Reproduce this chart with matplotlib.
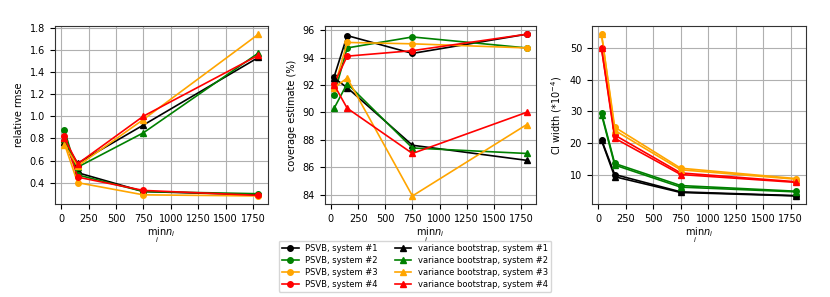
import matplotlib
matplotlib.use("Agg")
import matplotlib.pyplot as plt

x = [30, 150, 750, 1800]
colors = ["black", "green", "orange", "red"]
systems = ["system #1", "system #2", "system #3", "system #4"]

# relative rmse
rmse_psvb = [
    [0.78, 0.49, 0.32, 0.29],
    [0.875, 0.47, 0.32, 0.30],
    [0.75, 0.40, 0.29, 0.28],
    [0.82, 0.45, 0.33, 0.285],
]
rmse_vb = [
    [0.77, 0.575, 0.92, 1.53],
    [0.79, 0.54, 0.85, 1.57],
    [0.74, 0.55, 0.97, 1.74],
    [0.80, 0.57, 1.00, 1.55],
]
# coverage estimate (%)
cov_psvb = [
    [92.6, 95.6, 94.3, 95.7],
    [91.3, 94.7, 95.5, 94.7],
    [91.8, 95.1, 95.0, 94.7],
    [92.1, 94.1, 94.5, 95.7],
]
cov_vb = [
    [92.5, 91.8, 87.6, 86.5],
    [90.3, 92.1, 87.4, 87.0],
    [91.8, 92.5, 83.9, 89.1],
    [92.0, 90.3, 87.0, 90.0],
]
# CI width (*1e-4)
ci_psvb = [
    [21.0, 10.0, 4.5, 3.3],
    [29.5, 13.5, 6.5, 4.7],
    [54.5, 25.0, 12.0, 8.7],
    [50.0, 22.5, 10.5, 7.7],
]
ci_vb = [
    [20.8, 9.3, 4.3, 3.2],
    [29.0, 13.0, 6.0, 4.5],
    [54.5, 24.0, 11.5, 8.5],
    [50.0, 21.5, 10.0, 7.5],
]

plt.rcParams["font.size"] = 7
fig = plt.figure(figsize=(8.3, 2.97), dpi=100)
ax1 = fig.add_axes([0.066, 0.313, 0.257, 0.599])
ax2 = fig.add_axes([0.391, 0.313, 0.255, 0.599])
ax3 = fig.add_axes([0.713, 0.313, 0.258, 0.599])

panels = [
    (ax1, rmse_psvb, rmse_vb, "relative rmse"),
    (ax2, cov_psvb, cov_vb, "coverage estimate (%)"),
    (ax3, ci_psvb, ci_vb, r"CI width (*10$^{-4}$)"),
]
handles = []
for ax, ps, vb, ylabel in panels:
    hp, hv = [], []
    for i, c in enumerate(colors):
        l1, = ax.plot(x, ps[i], "-o", color=c, lw=1.2, ms=4,
                      label=f"PSVB, {systems[i]}")
        hp.append(l1)
    for i, c in enumerate(colors):
        l2, = ax.plot(x, vb[i], "-^", color=c, lw=1.2, ms=4,
                      label=f"variance bootstrap, {systems[i]}")
        hv.append(l2)
    ax.set_ylabel(ylabel)
    ax.set_xlabel(r"$\min_i n_i$", labelpad=1)
    ax.grid(True, color="#b0b0b0", lw=0.8)
    ax.set_xticks([0, 250, 500, 750, 1000, 1250, 1500, 1750])
    for s in ax.spines.values():
        s.set_color("#333333")
    handles = hp + hv

ax2.set_yticks([84, 86, 88, 90, 92, 94, 96])
fig.legend(handles, [h.get_label() for h in handles], ncol=2,
           loc="center", bbox_to_anchor=(0.5, 0.103),
           fontsize=6, frameon=True, labelspacing=0.35,
           columnspacing=2.0, borderpad=0.4)
fig.savefig("out.png", dpi=100)
